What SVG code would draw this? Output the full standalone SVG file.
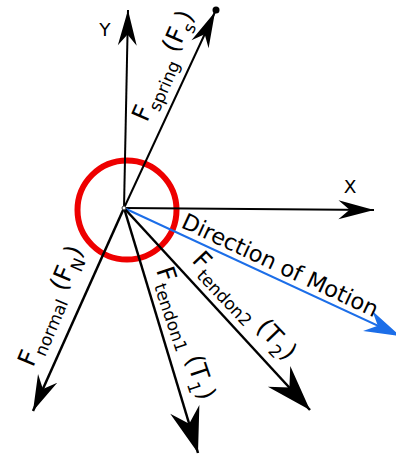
<svg xmlns="http://www.w3.org/2000/svg" width="396" height="455" viewBox="0 0 396 455">
<defs>
<style>
.ax{stroke:#000;stroke-width:2;fill:none}
.fc{stroke:#000;stroke-width:2.5;fill:none}
.mv{stroke:#1c6ee8;stroke-width:2;fill:none}
text{font-family:"DejaVu Sans",sans-serif;fill:#000}
.lab{font-size:25px}
.sub{font-size:17px}
.axl{font-size:18.5px;text-anchor:middle}
.dir{font-size:22.5px}
</style>
<marker id="hs" markerUnits="userSpaceOnUse" orient="auto" markerWidth="40" markerHeight="40" refX="0" refY="0" viewBox="-34 -10 36 20" overflow="visible">
<path d="M0,0 L-32,-8.5 L-22,0 L-32,8.5 Z" fill="#000"/>
</marker>
<marker id="hn" markerUnits="userSpaceOnUse" orient="auto" markerWidth="40" markerHeight="40" refX="0" refY="0" viewBox="-36 -12 38 24" overflow="visible">
<path d="M0,0 L-34,-10 L-23,0 L-34,10 Z" fill="#000"/>
</marker>
<marker id="hl" markerUnits="userSpaceOnUse" orient="auto" markerWidth="50" markerHeight="50" refX="0" refY="0" viewBox="-44 -15 46 30" overflow="visible">
<path d="M0,0 L-42,-14 L-28,0 L-42,14 Z" fill="#000"/>
</marker>
<marker id="hb" markerUnits="userSpaceOnUse" orient="auto" markerWidth="40" markerHeight="40" refX="0" refY="0" viewBox="-34 -10 36 20" overflow="visible">
<path d="M0,0 L-32,-10 L-22,0 L-32,10 Z" fill="#1c6ee8"/>
</marker>
</defs>
<g id="circle-node">
<circle cx="127" cy="210" r="49.5" fill="none" stroke="#ee0000" stroke-width="6"/>
</g>
<g id="connectors">
<line id="y-axis" class="ax" x1="124" y1="208" x2="128" y2="10" marker-end="url(#hs)"/>
<line id="x-axis" class="ax" x1="124" y1="208" x2="374" y2="210" marker-end="url(#hs)"/>
<line id="spring" class="ax" x1="124" y1="208" x2="215" y2="12" marker-end="url(#hs)"/>
<line id="motion" class="mv" x1="124" y1="208" x2="400" y2="336" marker-end="url(#hb)"/>
<line id="normal" class="fc" x1="124" y1="208" x2="33" y2="411" marker-end="url(#hn)"/>
<line id="tendon1" class="fc" x1="124" y1="208" x2="198" y2="453" marker-end="url(#hl)"/>
<line id="tendon2" class="fc" x1="124" y1="208" x2="310" y2="410" marker-end="url(#hl)"/>
</g>
<g id="origin"><circle cx="124" cy="208" r="2" fill="#fff" stroke="#333" stroke-width="1"/></g>
<g id="spring-end"><circle cx="216" cy="10" r="3.5" fill="#000"/></g>
<g id="label-y"><text class="axl" x="105" y="36">Y</text></g>
<g id="label-x"><text class="axl" x="350" y="193">X</text></g>
<g id="label-spring"><text class="lab" transform="translate(147,123) rotate(-66.5)">F<tspan class="sub" dy="7">spring</tspan><tspan dy="-7"> (F</tspan><tspan class="sub" dy="7">s</tspan><tspan dy="-7">)</tspan></text></g>
<g id="label-normal"><text class="lab" transform="translate(33,368) rotate(-67)">F<tspan class="sub" dy="7">normal</tspan><tspan dy="-7"> (F</tspan><tspan class="sub" dy="7">N</tspan><tspan dy="-7">)</tspan></text></g>
<g id="label-tendon1"><text class="lab" transform="translate(156,270) rotate(71.5)">F<tspan class="sub" dy="7">tendon1</tspan><tspan dy="-7"> (T</tspan><tspan class="sub" dy="7">1</tspan><tspan dy="-7">)</tspan></text></g>
<g id="label-tendon2"><text class="lab" transform="translate(191,261) rotate(46.5)">F<tspan class="sub" dy="7">tendon2</tspan><tspan dy="-7"> (T</tspan><tspan class="sub" dy="7">2</tspan><tspan dy="-7">)</tspan></text></g>
<g id="label-motion"><text class="dir" transform="translate(180,227) rotate(25)">Direction of Motion</text></g>
</svg>
